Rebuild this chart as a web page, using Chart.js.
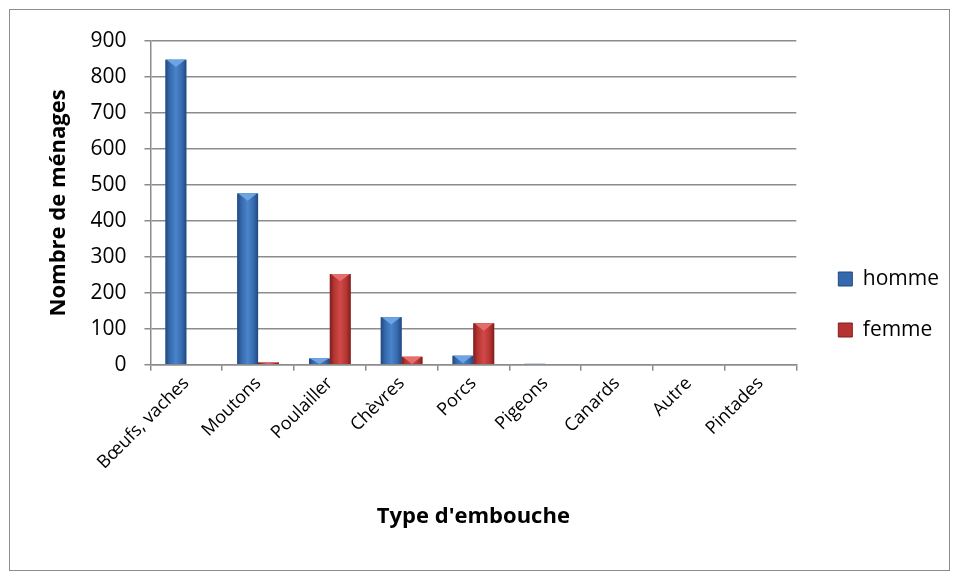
<!DOCTYPE html>
<html>
<head>
<meta charset="utf-8">
<script src="https://cdn.jsdelivr.net/npm/chart.js@4.4.1/dist/chart.umd.min.js"></script>
<style>
  html, body { margin: 0; padding: 0; background: #fff; }
  #wrap { position: relative; width: 957px; height: 578px; }
  #frame { position: absolute; left: 9px; top: 9px; width: 939px; height: 560px; border: 1px solid #8c8c8c; pointer-events: none; }
  canvas { position: absolute; left: 0; top: 0; }
</style>
</head>
<body>
<div id="wrap">
  <canvas id="chart" width="957" height="578"></canvas>
  <div id="frame"></div>
</div>
<script>
// data
const categories = ['Bœufs, vaches', 'Moutons', 'Poulailler', 'Chèvres', 'Porcs', 'Pigeons', 'Canards', 'Autre', 'Pintades'];
const homme = [848, 476, 17, 132, 25, 3, 0, 0, 0];
const femme = [0, 6, 252, 22, 115, 0, 0, 0, 0];
const yTicks = [0, 100, 200, 300, 400, 500, 600, 700, 800, 900];

const FONT = "'Open Sans', 'Noto Sans', sans-serif";

// shading per series: dark edge, body, highlight, top bevel
const shades = [
    { dark: '#23487c', mid: '#3469ad', light: '#4b84ca', top: '#6fa4e4' },
    { dark: '#7c1f1d', mid: '#b53432', light: '#cf4947', top: '#e56e6c' }
];

// fake the 3D look: horizontal gradient + light triangle on top
const bevel = {
    id: 'bevel',
    afterDatasetsDraw(chart) {
        const c = chart.ctx;
        chart.data.datasets.forEach((ds, i) => {
            const s = shades[i];
            chart.getDatasetMeta(i).data.forEach((bar) => {
                const h = bar.base - bar.y;
                if (h < 0.5) return;
                const l = bar.x - bar.width / 2, r = bar.x + bar.width / 2;
                const g = c.createLinearGradient(l, 0, r, 0);
                g.addColorStop(0, s.dark);
                g.addColorStop(0.2, s.mid);
                g.addColorStop(0.5, s.light);
                g.addColorStop(0.8, s.mid);
                g.addColorStop(1, s.dark);
                c.save();
                c.fillStyle = g;
                c.fillRect(l, bar.y, bar.width, h);
                const d = Math.min(bar.width * 0.35, h);
                c.fillStyle = s.top;
                c.beginPath();
                c.moveTo(l + 1, bar.y);
                c.lineTo(r - 1, bar.y);
                c.lineTo(bar.x, bar.y + d);
                c.closePath();
                c.fill();
                c.restore();
            });
        });
    }
};

// nudge the legend to where the original sits
const legendShift = {
    id: 'legendShift',
    afterLayout(chart) {
        const lg = chart.legend;
        lg.left += 12; lg.right += 12;
        lg.top += 19; lg.bottom += 19;
    }
};

const ctx = document.getElementById('chart').getContext('2d');
const chart = new Chart(ctx, {
    type: 'bar',
    data: {
        labels: categories,
        datasets: [{
            label: 'homme',
            data: homme,
            backgroundColor: shades[0].mid,
            borderWidth: 0
        }, {
            label: 'femme',
            data: femme,
            backgroundColor: shades[1].mid,
            borderWidth: 0
        }]
    },
    options: {
        responsive: false,
        animation: false,
        devicePixelRatio: 1,
        layout: { padding: { top: 41, right: 20, bottom: 48, left: 46 } },
        datasets: {
            bar: { categoryPercentage: 0.58, barPercentage: 1 }
        },
        plugins: {
            tooltip: { enabled: false },
            legend: {
                position: 'right',
                labels: {
                    boxWidth: 14,
                    boxHeight: 14,
                    padding: 30,
                    color: '#000',
                    font: { family: FONT, size: 21 },
                    generateLabels(ch) {
                        return ch.data.datasets.map((ds, i) => ({
                            text: ds.label,
                            fillStyle: shades[i].mid,
                            strokeStyle: shades[i].dark,
                            lineWidth: 1,
                            datasetIndex: i
                        }));
                    }
                }
            }
        },
        scales: {
            x: {
                grid: {
                    display: true,
                    drawOnChartArea: false,
                    drawTicks: true,
                    tickLength: 6,
                    color: '#8c8c8c',
                    lineWidth: 1.5
                },
                border: { display: true, color: '#8c8c8c', width: 1.5 },
                ticks: {
                    color: '#000',
                    font: { family: FONT, size: 18 },
                    maxRotation: 45,
                    minRotation: 45,
                    padding: 2
                },
                title: {
                    display: true,
                    text: "Type d'embouche",
                    color: '#000',
                    font: { family: FONT, size: 22, weight: 'bold' },
                    padding: { top: 28, bottom: 0 }
                }
            },
            y: {
                min: 0,
                max: 900,
                afterBuildTicks(scale) {
                    scale.ticks = yTicks.map((v) => ({ value: v }));
                },
                grid: {
                    color: '#8c8c8c',
                    lineWidth: 1.5,
                    tickLength: 6
                },
                border: { display: true, color: '#8c8c8c', width: 1.5 },
                ticks: {
                    color: '#000',
                    font: { family: FONT, size: 21 },
                    padding: 18
                },
                title: {
                    display: true,
                    text: 'Nombre de ménages',
                    color: '#000',
                    font: { family: FONT, size: 22, weight: 'bold' },
                    padding: { top: 0, bottom: 0 }
                }
            }
        }
    },
    plugins: [bevel, legendShift]
});
</script>
</body>
</html>
